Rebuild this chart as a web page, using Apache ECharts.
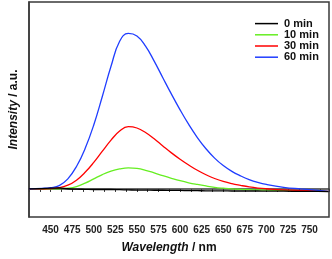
<!DOCTYPE html>
<html>
<head>
<meta charset="utf-8">
<script src="https://cdn.jsdelivr.net/npm/echarts@6/dist/echarts.min.js"></script>
<style>html,body{margin:0;padding:0;background:#fff;}#c{width:332px;height:259px;}</style>
</head>
<body>
<div id="c"></div>
<script>
const wavelengths = [425,440,450,460,470,480,490,500,510,520,530,540,550,560,570,580,590,600,610,620,630,640,650,660,670,680,690,700,720,740,760,772];
const min0  = [0,0.2,0.4,0.5,0.1,-0.1,-0.2,-0.3,-0.3,-0.3,-0.4,-0.5,-0.6,-0.6,-0.7,-0.7,-0.8,-0.8,-0.9,-0.9,-1.0,-1.0,-1.0,-1.1,-1.1,-1.1,-1.1,-1.2,-1.2,-1.3,-1.3,-1.4];
const min10 = [0,0,0,0.1,0.4,1.3,3.1,5.4,7.7,9.5,10.7,11.3,11.0,10.0,8.6,7.1,5.7,4.4,3.3,2.4,1.6,0.9,0.4,0.0,-0.2,-0.4,-0.5,-0.6,-0.8,-0.9,-1.1,-1.3];
const min30 = [0,0.1,0.2,0.7,2.0,4.7,8.9,14.2,20.2,26.1,31.0,33.3,32.6,30.2,26.8,23.0,19.3,15.9,12.8,10.0,7.6,5.6,4.0,2.8,1.9,1.1,0.5,0.1,-0.5,-0.8,-1.0,-1.3];
const min60 = [0,0.3,0.7,1.8,5.4,12.0,21.6,34.2,49.6,65.6,79.0,83.2,81.8,76.4,68.4,59.5,50.7,42.3,34.5,27.5,21.5,16.5,12.5,9.4,7.0,5.0,3.5,2.4,0.9,0.0,-0.8,-1.3];
const seriesNames = ['0 min','10 min','30 min','60 min'];
const xTickLabels = [450,475,500,525,550,575,600,625,650,675,700,725,750];

const pairs = arr => wavelengths.map((w,i)=>[w,arr[i]]);
const colors = {'0 min':'#000000','10 min':'#66ee22','30 min':'#ff0000','60 min':'#1f3dff'};
const dataMap = {'0 min':min0,'10 min':min10,'30 min':min30,'60 min':min60};
const mk = (name,z) => ({
  name, type:'line', data: pairs(dataMap[name]), symbol:'none', smooth:0.45, z,
  lineStyle:{color:colors[name], width:1.3}, itemStyle:{color:colors[name]}
});
const FONT = 'Liberation Sans, Arial, sans-serif';

const chart = echarts.init(document.getElementById('c'), null, {renderer:'canvas'});
chart.setOption({
  animation:false,
  grid:{left:23,right:3,top:2,bottom:42,show:true,borderColor:'#3a3a3a',borderWidth:1.5,backgroundColor:'transparent'},
  legend:{
    data:seriesNames, orient:'vertical', left:255, top:18, padding:0,
    icon:'rect', itemWidth:23, itemHeight:1.5, itemGap:0,
    textStyle:{fontFamily:FONT,fontWeight:'bold',fontSize:11,color:'#111',lineHeight:11.2,padding:[0,0,0,1]}
  },
  xAxis:{
    type:'value', min:425, max:772.5, interval:25,
    axisLine:{show:true,lineStyle:{color:'#3a3a3a',width:1.5}},
    axisTick:{show:true,inside:false,length:3,lineStyle:{color:'#3a3a3a',width:1}},
    minorTick:{show:true,splitNumber:2,length:3,lineStyle:{color:'#3a3a3a',width:1}},
    splitLine:{show:false}, minorSplitLine:{show:false},
    axisLabel:{margin:8,fontFamily:FONT,fontWeight:'bold',fontSize:10,color:'#222',
      showMinLabel:false, showMaxLabel:false,
      formatter:v => xTickLabels.indexOf(v) >= 0 ? String(v) : ''},
    name:'{i|Wavelength}{n| / nm}', nameLocation:'middle', nameGap:25,
    nameTextStyle:{padding:[0,20,0,0],rich:{
      i:{fontFamily:FONT,fontWeight:'bold',fontStyle:'italic',fontSize:12,color:'#111'},
      n:{fontFamily:FONT,fontWeight:'bold',fontSize:12,color:'#111'}}}
  },
  yAxis:{
    type:'value', min:-15, max:100,
    axisLine:{show:true,lineStyle:{color:'#3a3a3a',width:1.5}},
    axisTick:{show:false}, axisLabel:{show:false}, splitLine:{show:false},
    name:'{i|Intensity}{n| / a.u.}', nameLocation:'middle', nameGap:9,
    nameTextStyle:{rich:{
      i:{fontFamily:FONT,fontWeight:'bold',fontStyle:'italic',fontSize:12,color:'#111'},
      n:{fontFamily:FONT,fontWeight:'bold',fontSize:12,color:'#111'}}}
  },
  series:[mk('10 min',2), mk('30 min',3), mk('60 min',4), mk('0 min',5)]
});
</script>
</body>
</html>
